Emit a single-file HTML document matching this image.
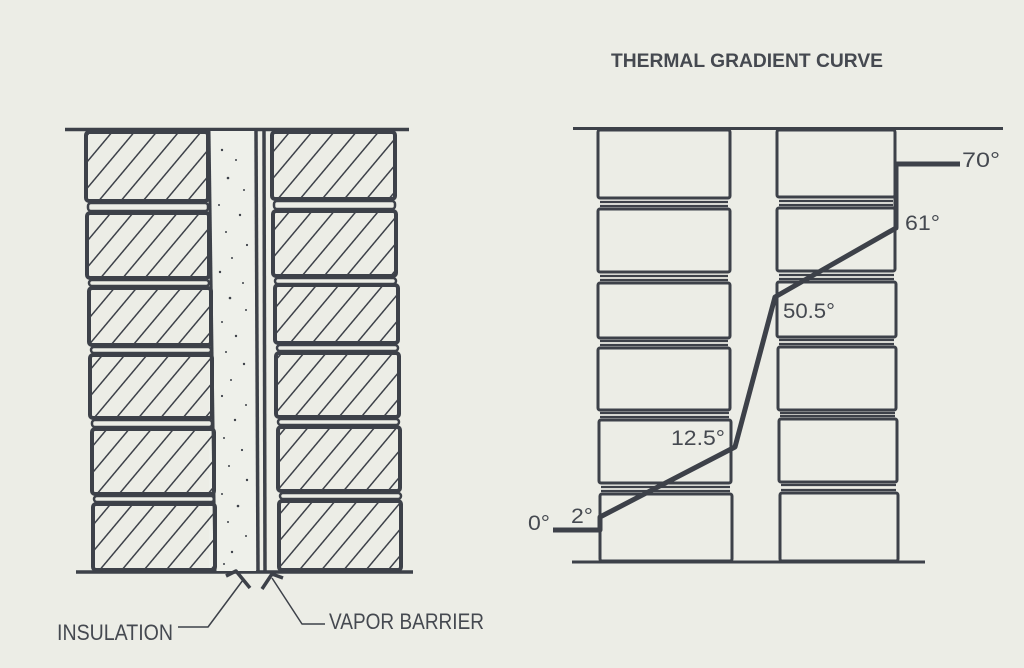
<!DOCTYPE html>
<html><head><meta charset="utf-8"><style>
html,body{margin:0;padding:0;background:#ecede6;}
svg{display:block}
text{font-family:"Liberation Sans Narrow","Liberation Sans",sans-serif;fill:#454950}
</style></head><body>
<svg width="1024" height="668" viewBox="0 0 1024 668" xmlns="http://www.w3.org/2000/svg">
<defs>
<pattern id="h" patternUnits="userSpaceOnUse" width="17" height="20" patternTransform="rotate(40)">
<line x1="0" y1="0" x2="0" y2="20" stroke="#3d4149" stroke-width="3"/>
</pattern>
</defs>
<rect width="1024" height="668" fill="#ecede6"/>
<g stroke="#3d4149" fill="none" stroke-linejoin="round">
<line x1="65" y1="129.5" x2="409" y2="129.5" stroke-width="3.5"/>
<line x1="76" y1="572" x2="413" y2="572" stroke-width="3.5"/>
<rect x="209" y="131" width="47" height="440" fill="#eef0ea" stroke="none"/>
<line x1="209" y1="131" x2="215" y2="571" stroke-width="3"/>
<line x1="256" y1="131" x2="258" y2="571" stroke-width="3.5"/>
<line x1="264" y1="131" x2="265" y2="571" stroke-width="3.5"/>
<g fill="#3d4149" stroke="none">
<circle cx="222" cy="150" r="1.2"/><circle cx="236" cy="160" r="1"/><circle cx="228" cy="178" r="1.3"/><circle cx="244" cy="190" r="1"/><circle cx="219" cy="205" r="1"/><circle cx="240" cy="215" r="1.2"/><circle cx="226" cy="232" r="1"/><circle cx="247" cy="245" r="1.1"/><circle cx="232" cy="258" r="1"/><circle cx="220" cy="272" r="1.2"/><circle cx="243" cy="283" r="1"/><circle cx="230" cy="298" r="1.3"/><circle cx="246" cy="310" r="1"/><circle cx="222" cy="322" r="1"/><circle cx="236" cy="336" r="1.2"/><circle cx="226" cy="352" r="1"/><circle cx="244" cy="364" r="1.2"/><circle cx="231" cy="380" r="1"/><circle cx="222" cy="396" r="1.1"/><circle cx="246" cy="405" r="1"/><circle cx="235" cy="420" r="1.2"/><circle cx="224" cy="438" r="1"/><circle cx="242" cy="450" r="1.1"/><circle cx="229" cy="466" r="1"/><circle cx="247" cy="480" r="1.2"/><circle cx="222" cy="494" r="1"/><circle cx="238" cy="506" r="1.3"/><circle cx="228" cy="522" r="1"/><circle cx="246" cy="536" r="1"/><circle cx="232" cy="552" r="1.2"/><circle cx="224" cy="564" r="1"/>
</g>
<g>
<rect x="86" y="132" width="122" height="69" rx="3" fill="url(#h)" stroke-width="4"/>
<rect x="87" y="213" width="122" height="65" rx="3" fill="url(#h)" stroke-width="4"/>
<rect x="89" y="288" width="122" height="57" rx="3" fill="url(#h)" stroke-width="4"/>
<rect x="90" y="355" width="122" height="63" rx="3" fill="url(#h)" stroke-width="4"/>
<rect x="92" y="429" width="122" height="65" rx="3" fill="url(#h)" stroke-width="4"/>
<rect x="93" y="504" width="122" height="66" rx="3" fill="url(#h)" stroke-width="4"/>
<g stroke-width="2.5">
<rect x="88" y="203" width="120" height="8" rx="3"/>
<rect x="89" y="280" width="120" height="6" rx="3"/>
<rect x="91" y="347" width="120" height="6" rx="3"/>
<rect x="92" y="420" width="120" height="7" rx="3"/>
<rect x="94" y="496" width="120" height="6" rx="3"/>
</g>
</g>
<g>
<rect x="272" y="132" width="123" height="67" rx="3" fill="url(#h)" stroke-width="4"/>
<rect x="273" y="211" width="123" height="65" rx="3" fill="url(#h)" stroke-width="4"/>
<rect x="275" y="285" width="123" height="58" rx="3" fill="url(#h)" stroke-width="4"/>
<rect x="276" y="353" width="123" height="64" rx="3" fill="url(#h)" stroke-width="4"/>
<rect x="278" y="427" width="122" height="64" rx="3" fill="url(#h)" stroke-width="4"/>
<rect x="279" y="501" width="122" height="69" rx="3" fill="url(#h)" stroke-width="4"/>
<g stroke-width="2.5">
<rect x="274" y="201" width="121" height="8" rx="3"/>
<rect x="275" y="278" width="121" height="6" rx="3"/>
<rect x="277" y="345" width="121" height="6" rx="3"/>
<rect x="278" y="419" width="121" height="6" rx="3"/>
<rect x="280" y="493" width="121" height="6" rx="3"/>
</g>
</g>
<path d="M226 576 L236 571 L250 588" stroke-width="3.5"/>
<path d="M262 589 L272 574 L283 578" stroke-width="3.5"/>
<path d="M178 627 L208 627 L243 580" stroke-width="1.5"/>
<path d="M325 624 L302 624 L272 578" stroke-width="1.5"/>

<line x1="573" y1="128.5" x2="1003" y2="128.5" stroke-width="3"/>
<line x1="572" y1="562" x2="925" y2="562" stroke-width="3"/>
<g stroke-width="3">
<rect x="598" y="130" width="132" height="68" rx="2"/>
<rect x="598" y="209" width="132" height="63" rx="2"/>
<rect x="598" y="283" width="132" height="55" rx="2"/>
<rect x="598" y="348" width="132" height="62" rx="2"/>
<rect x="599" y="420" width="132" height="63" rx="2"/>
<rect x="600" y="494" width="132" height="67" rx="2"/>
<rect x="777" y="130" width="118" height="67" rx="2"/>
<rect x="777" y="208" width="118" height="63" rx="2"/>
<rect x="777" y="282" width="119" height="55" rx="2"/>
<rect x="778" y="347" width="118" height="63" rx="2"/>
<rect x="779" y="419" width="118" height="63" rx="2"/>
<rect x="780" y="493" width="118" height="68" rx="2"/>
</g>
<g stroke-width="2.2">
<line x1="600" y1="202" x2="728" y2="202"/><line x1="600" y1="206" x2="728" y2="206"/>
<line x1="600" y1="276" x2="728" y2="276"/><line x1="600" y1="280" x2="728" y2="280"/>
<line x1="600" y1="341" x2="728" y2="341"/><line x1="600" y1="345" x2="728" y2="345"/>
<line x1="600" y1="413" x2="729" y2="413"/><line x1="600" y1="417" x2="729" y2="417"/>
<line x1="601" y1="487" x2="730" y2="487"/><line x1="601" y1="491" x2="730" y2="491"/>
<line x1="779" y1="201" x2="893" y2="201"/><line x1="779" y1="205" x2="893" y2="205"/>
<line x1="779" y1="275" x2="894" y2="275"/><line x1="779" y1="279" x2="894" y2="279"/>
<line x1="779" y1="340" x2="894" y2="340"/><line x1="779" y1="344" x2="894" y2="344"/>
<line x1="780" y1="413" x2="895" y2="413"/><line x1="780" y1="416" x2="895" y2="416"/>
<line x1="781" y1="485" x2="896" y2="485"/><line x1="781" y1="490" x2="896" y2="490"/>
</g>
<path d="M960 164 L896 164 L896 228 L775 297 L735 447 L600 517 L600 530 L553 530" stroke-width="5"/>
</g>
<text x="611" y="67" font-size="19" font-weight="bold" textLength="272" lengthAdjust="spacingAndGlyphs">THERMAL GRADIENT CURVE</text>
<text x="962" y="167" font-size="21" textLength="38" lengthAdjust="spacingAndGlyphs">70°</text>
<text x="905" y="230" font-size="21" textLength="35" lengthAdjust="spacingAndGlyphs">61°</text>
<text x="783" y="318" font-size="21" textLength="52" lengthAdjust="spacingAndGlyphs">50.5°</text>
<text x="671" y="445" font-size="21" textLength="54" lengthAdjust="spacingAndGlyphs">12.5°</text>
<text x="571" y="523" font-size="21" textLength="22" lengthAdjust="spacingAndGlyphs">2°</text>
<text x="528" y="530" font-size="21" textLength="22" lengthAdjust="spacingAndGlyphs">0°</text>
<text x="57" y="640" font-size="22" textLength="116" lengthAdjust="spacingAndGlyphs">INSULATION</text>
<text x="329" y="629" font-size="22" textLength="155" lengthAdjust="spacingAndGlyphs">VAPOR BARRIER</text>
</svg>
</body></html>
